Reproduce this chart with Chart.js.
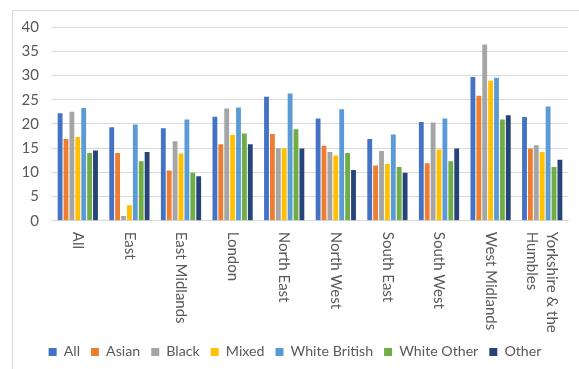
<!DOCTYPE html>
<html>
<head>
<meta charset="utf-8">
<style>
  html, body { margin: 0; padding: 0; background: #fff; overflow: hidden; }
  #frame { position: absolute; left: 12px; top: 10px; width: 700px; height: 500px; border: 1px solid #d9d9d9; }
  #chart { position: absolute; left: 0; top: 0; }
</style>
</head>
<body>
<div id="frame"></div>
<canvas id="chart" width="579" height="369"></canvas>

<script src="https://cdn.jsdelivr.net/npm/chart.js"></script>
<script>
  const categories = ['All', 'East', 'East Midlands', 'London', 'North East', 'North West',
    'South East', 'South West', 'West Midlands', ['Yorkshire & the', 'Humbles']];

  const all          = [22.2, 19.3, 19.1, 21.5, 25.6, 21.1, 16.9, 20.4, 29.7, 21.4];
  const asian        = [16.9, 14.0, 10.4, 15.8, 17.9, 15.5, 11.4, 11.9, 25.8, 14.9];
  const black        = [22.5, 1.0, 16.4, 23.2, 15.0, 14.2, 14.4, 20.3, 36.4, 15.6];
  const mixed        = [17.3, 3.2, 13.9, 17.7, 15.0, 13.5, 11.7, 14.7, 28.9, 14.2];
  const whiteBritish = [23.3, 19.9, 20.9, 23.4, 26.3, 23.0, 17.8, 21.1, 29.5, 23.6];
  const whiteOther   = [14.0, 12.3, 9.9, 18.0, 18.9, 14.0, 11.1, 12.3, 20.9, 11.1];
  const other        = [14.5, 14.2, 9.2, 15.8, 14.9, 10.5, 9.9, 14.9, 21.8, 12.6];

  const textColor = '#595959';
  const font = 'Lato';

  // excel style labels, turned clockwise and read top to bottom
  const xLabels = {
    id: 'xLabels',
    afterDraw(chart) {
      const xs = chart.scales.x;
      const ctx = chart.ctx;
      ctx.save();
      ctx.fillStyle = textColor;
      ctx.font = '15px ' + font;
      ctx.textAlign = 'left';
      ctx.textBaseline = 'middle';
      categories.forEach((lab, i) => {
        const lines = Array.isArray(lab) ? lab : [lab];
        const x = xs.getPixelForValue(i);
        ctx.save();
        ctx.translate(x, xs.top + 11);
        ctx.rotate(Math.PI / 2);
        lines.forEach((l, j) => ctx.fillText(l, 0, (j - (lines.length - 1) / 2) * 20));
        ctx.restore();
      });
      ctx.restore();
    },
  };

  const ds = (label, data, color) => ({
    label, data, backgroundColor: color,
    categoryPercentage: 0.8, barPercentage: 0.82,
  });

  new Chart(document.getElementById('chart'), {
    type: 'bar',
    data: {
      labels: categories,
      datasets: [
        ds('All', all, '#4472C4'),
        ds('Asian', asian, '#ED7D31'),
        ds('Black', black, '#A5A5A5'),
        ds('Mixed', mixed, '#FFC000'),
        ds('White British', whiteBritish, '#5B9BD5'),
        ds('White Other', whiteOther, '#70AD47'),
        ds('Other', other, '#264478'),
      ],
    },
    options: {
      responsive: false,
      animation: false,
      layout: { padding: { left: 22, right: 11, top: 27, bottom: 0 } },
      plugins: {
        tooltip: { enabled: false },
        legend: {
          position: 'bottom',
          labels: {
            boxWidth: 8, boxHeight: 8, padding: 11,
            color: textColor,
            font: { family: font, size: 14.2 },
          },
        },
      },
      scales: {
        x: {
          grid: { display: false },
          border: { color: '#d9d9d9' },
          ticks: { display: false },
          afterFit: (s) => { s.height = 113; },
        },
        y: {
          min: 0, max: 40,
          ticks: { stepSize: 5, autoSkip: false, padding: 13, color: textColor, font: { family: font, size: 15 } },
          grid: { color: '#d9d9d9', drawTicks: false },
          border: { display: false },
          afterFit: (s) => { s.width = 30; },
        },
      },
    },
    plugins: [xLabels],
  });
</script>
</body>
</html>
